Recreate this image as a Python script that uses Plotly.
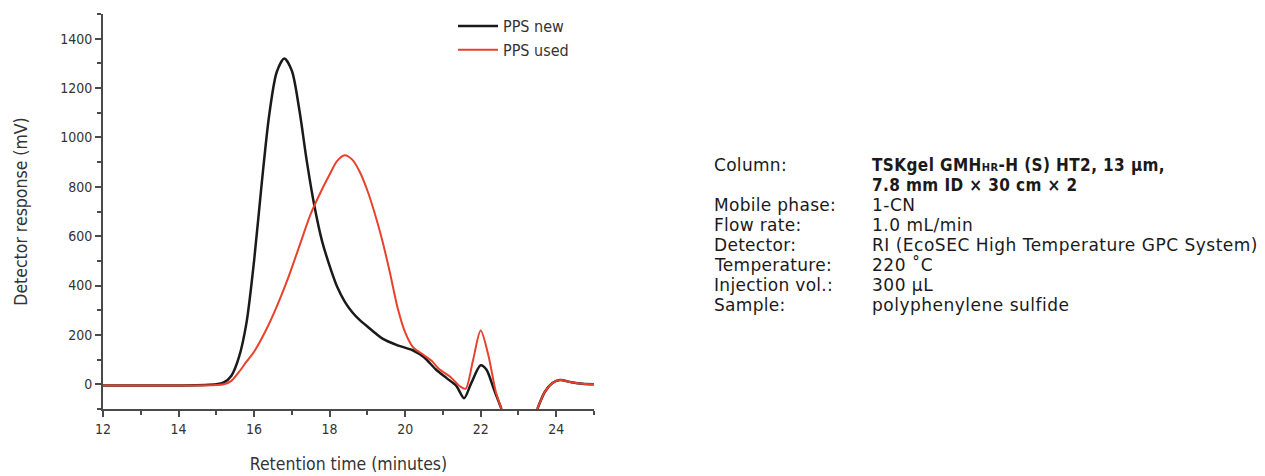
import plotly.graph_objects as go

# ---- data ----
t_new = [12, 13, 14, 15, 15.2, 15.4, 15.6, 15.8, 16.0, 16.2, 16.4, 16.6, 16.8, 17.0, 17.2, 17.4,
         17.6, 17.8, 18.0, 18.2, 18.4, 18.6, 18.8, 19.0, 19.4, 19.8, 20.2, 20.5, 20.8, 21.1, 21.35,
         21.56, 21.75, 22.0, 22.15, 22.35, 22.55, None, 23.5, 23.7, 23.9, 24.1, 24.4, 24.7, 25]
v_new = [-5, -5, -5, 0, 8, 35, 110, 250, 500, 810, 1090, 1265, 1320, 1270, 1110, 900,
         720, 580, 480, 395, 335, 292, 260, 234, 185, 158, 138, 110, 62, 25, -5,
         -56, 5, 77, 60, -20, -100, None, -100, -30, 5, 17, 8, 2, 0]

t_used = [12, 13, 14, 15, 15.2, 15.4, 15.6, 15.8, 16.0, 16.3, 16.6, 16.9, 17.2, 17.5, 17.8, 18.0,
          18.2, 18.4, 18.6, 18.8, 19.0, 19.2, 19.4, 19.6, 19.8, 20.0, 20.2, 20.5, 20.7, 20.9, 21.2,
          21.45, 21.6, 21.8, 22.0, 22.2, 22.4, 22.55, None, 23.5, 23.7, 23.9, 24.1, 24.4, 24.7, 25]
v_used = [-5, -5, -5, -3, 0, 14, 50, 92, 132, 215, 315, 430, 560, 690, 790, 850,
          905, 928, 910, 860, 785, 690, 580, 450, 310, 210, 152, 118, 95, 62, 30,
          -8, -18, 100, 218, 120, -30, -100, None, -100, -30, 5, 17, 8, 2, 0]

series_names = ["PPS new", "PPS used"]
x_ticks = [12, 14, 16, 18, 20, 22, 24]
y_ticks = [0, 200, 400, 600, 800, 1000, 1200, 1400]

labels = ["Column:", "", "Mobile phase:", "Flow rate:", "Detector:", "Temperature:", "Injection vol.:", "Sample:"]
values = ["<b>TSKgel GMH<span style='font-size:11px'>HR</span>-H (S) HT2, 13 µm,</b>",
          "<b>7.8 mm ID × 30 cm × 2</b>",
          "1-CN", "1.0 mL/min", "RI (EcoSEC High Temperature GPC System)",
          "220 ˚C", "300 µL", "polyphenylene sulfide"]
bold_rows = [True, True, False, False, False, False, False, False]

FONT = "DejaVu Sans Condensed, Liberation Sans Narrow, Arial Narrow, sans-serif"
INFO_FONT = "DejaVu Sans, Verdana, sans-serif"
W, H = 1265, 476
L, R, T, B = 103, 671, 14, 67
pw, ph = W - L - R, H - T - B

fig = go.Figure()
fig.add_trace(go.Scatter(x=t_new, y=v_new, mode="lines", name=series_names[0],
                         line=dict(color="#1a1a1a", width=2.5, shape="spline", smoothing=0.8),
                         connectgaps=False))
fig.add_trace(go.Scatter(x=t_used, y=v_used, mode="lines", name=series_names[1],
                         line=dict(color="#e8412c", width=2, shape="spline", smoothing=0.8),
                         connectgaps=False))

axis_common = dict(showline=True, linecolor="#4a4a4a", linewidth=2, ticks="outside",
                   tickcolor="#4a4a4a", tickwidth=2, ticklen=6, showgrid=False, zeroline=False,
                   tickfont=dict(family=FONT, size=14, color="#333333"))

fig.update_xaxes(range=[12, 25], tickvals=x_ticks, ticktext=[str(v) for v in x_ticks],
                 minor=dict(dtick=1, tick0=12, ticks="outside", ticklen=4, tickcolor="#4a4a4a", tickwidth=2),
                 title=dict(text="Retention time (minutes)", font=dict(family=FONT, size=17.5, color="#333333"),
                            standoff=22),
                 **axis_common)
fig.update_yaxes(range=[-100, 1500], tickvals=y_ticks, ticktext=[str(v) for v in y_ticks],
                 minor=dict(dtick=100, tick0=0, ticks="outside", ticklen=4, tickcolor="#4a4a4a", tickwidth=2),
                 title=dict(text="Detector response (mV)", font=dict(family=FONT, size=17.5, color="#333333"),
                            standoff=28),
                 **axis_common)

def px_to_paper_x(px):
    return (px - L) / pw

def px_to_paper_y(py):
    return 1 - (py - T) / ph

row_y = [165, 185, 205, 225, 245, 265, 285, 305]
annotations = []
for lab, val, yy, bold in zip(labels, values, row_y, bold_rows):
    if lab:
        annotations.append(dict(x=px_to_paper_x(713), y=px_to_paper_y(yy), xref="paper", yref="paper",
                                text="<span style='letter-spacing:0.3px'>" + lab + "</span>",
                                showarrow=False, xanchor="left", yanchor="middle", borderpad=0,
                                font=dict(family=INFO_FONT, size=17, color="#1a1a1a")))
    if bold:
        txt = "<span style='letter-spacing:0.4px'>" + val + "</span>"
        fnt = dict(family=FONT, size=17, color="#1a1a1a")
    else:
        txt = "<span style='letter-spacing:0.5px'>" + val + "</span>"
        fnt = dict(family=INFO_FONT, size=17, color="#1a1a1a")
    annotations.append(dict(x=px_to_paper_x(871), y=px_to_paper_y(yy), xref="paper", yref="paper",
                            text=txt, showarrow=False, xanchor="left", yanchor="middle", borderpad=0,
                            font=fnt))

fig.update_layout(
    width=W, height=H,
    margin=dict(l=L, r=R, t=T, b=B, autoexpand=False),
    paper_bgcolor="white", plot_bgcolor="white",
    showlegend=True,
    legend=dict(x=px_to_paper_x(453), y=px_to_paper_y(9), xanchor="left", yanchor="top",
                bgcolor="rgba(0,0,0,0)", font=dict(family=FONT, size=16, color="#333333"),
                tracegroupgap=0, itemwidth=40),
    annotations=annotations,
)

fig.write_html("out.html")
